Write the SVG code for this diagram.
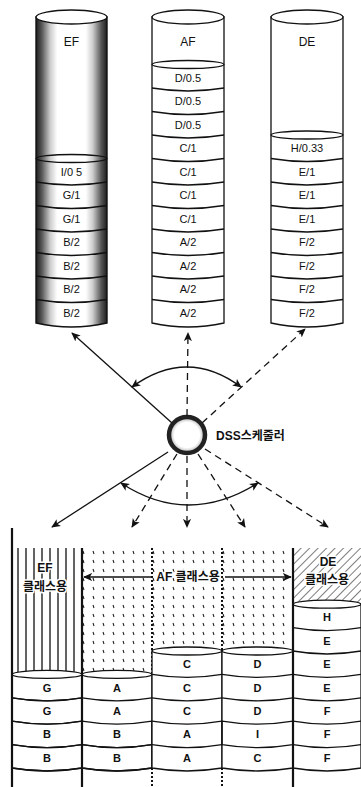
<svg xmlns="http://www.w3.org/2000/svg" width="361" height="787" viewBox="0 0 361 787">
<style>
.o{fill:none;stroke:#111;stroke-width:1.3}
.w{fill:#fff;stroke:#111;stroke-width:1.3}
.side{fill:none;stroke:#111;stroke-width:2.2}
.t{font-family:"Liberation Sans","Noto Sans CJK KR",sans-serif;font-size:11px;text-anchor:middle;fill:#111}
.bt{font-family:"Liberation Sans","Noto Sans CJK KR",sans-serif;font-size:11px;font-weight:bold;text-anchor:middle;fill:#111}
.k{font-family:"Liberation Sans","Noto Sans CJK KR",sans-serif;font-size:12px;font-weight:bold;fill:#111}
.halo{paint-order:stroke;stroke:#fff;stroke-width:3px;stroke-linejoin:round}
.ln{fill:none;stroke:#111;stroke-width:1.3}
.dash{stroke-dasharray:7 5}
</style>
<defs>
<marker id="ah" viewBox="0 0 10 10" refX="9" refY="5" markerWidth="9" markerHeight="9" markerUnits="userSpaceOnUse" orient="auto-start-reverse">
<path d="M0,0.5 L10,5 L0,9.5 L2.5,5 Z" fill="#111"/>
</marker>
<linearGradient id="shadeTop" x1="0" y1="0" x2="1" y2="0">
<stop offset="0" stop-color="#1e1e1e"/><stop offset="0.08" stop-color="#555"/><stop offset="0.2" stop-color="#ccc"/><stop offset="0.3" stop-color="#fff"/><stop offset="0.7" stop-color="#fff"/><stop offset="0.8" stop-color="#ccc"/><stop offset="0.92" stop-color="#555"/><stop offset="1" stop-color="#1e1e1e"/>
</linearGradient>
<linearGradient id="shadeD" x1="0" y1="0" x2="1" y2="0">
<stop offset="0" stop-color="#111"/><stop offset="0.1" stop-color="#555"/><stop offset="0.25" stop-color="#eee"/><stop offset="0.75" stop-color="#eee"/><stop offset="0.9" stop-color="#555"/><stop offset="1" stop-color="#111"/>
</linearGradient>
<linearGradient id="shadeL" x1="0" y1="0" x2="1" y2="0">
<stop offset="0" stop-color="#333"/><stop offset="0.1" stop-color="#888"/><stop offset="0.22" stop-color="#fff"/><stop offset="0.78" stop-color="#fff"/><stop offset="0.9" stop-color="#888"/><stop offset="1" stop-color="#333"/>
</linearGradient>
<radialGradient id="ring" cx="0.5" cy="0.5" r="0.5">
<stop offset="0" stop-color="#fff"/><stop offset="0.7" stop-color="#fff"/><stop offset="1" stop-color="#aaa"/>
</radialGradient>
<pattern id="dots" width="10" height="9" patternUnits="userSpaceOnUse">
<path d="M3,2 L4,5" stroke="#222" stroke-width="1.1"/>
</pattern>
<pattern id="hatch" width="6" height="6" patternUnits="userSpaceOnUse" patternTransform="rotate(45)">
<line x1="0" y1="0" x2="0" y2="6" stroke="#222" stroke-width="1.2"/>
</pattern>
</defs>

<!-- top cylinders -->
<g id="cyl-EF">
<path d="M36,17 L36,323 Q71.5,331 107,323 L107,17 Z" fill="url(#shadeTop)" stroke="#111" stroke-width="1.4"/>
<ellipse cx="71.5" cy="17" rx="35.5" ry="7" class="w"/>
<ellipse cx="71.5" cy="158.5" rx="35.5" ry="4" class="o"/>
<path class="o" d="M36,299.5 Q71.5,305.5 107,299.5 M36,276 Q71.5,282 107,276 M36,252.5 Q71.5,258.5 107,252.5 M36,229 Q71.5,235 107,229 M36,205.5 Q71.5,211.5 107,205.5 M36,182 Q71.5,188 107,182"/>
<text class="t" x="71.5" y="46" style="font-size:12px">EF</text>
<text class="t" x="71.5" y="175.75">I/0 5</text>
<text class="t" x="71.5" y="199.25">G/1</text>
<text class="t" x="71.5" y="222.75">G/1</text>
<text class="t" x="71.5" y="246.25">B/2</text>
<text class="t" x="71.5" y="269.75">B/2</text>
<text class="t" x="71.5" y="293.25">B/2</text>
<text class="t" x="71.5" y="316.75">B/2</text>
</g>

<g id="cyl-AF">
<path d="M152,17 L152,323 Q188,331 224,323 L224,17 Z" class="w"/>
<ellipse cx="188" cy="17" rx="36" ry="7" class="w"/>
<ellipse cx="188" cy="64.5" rx="36" ry="4" class="w"/>
<path class="o" d="M152,299.5 Q188,305.5 224,299.5 M152,276 Q188,282 224,276 M152,252.5 Q188,258.5 224,252.5 M152,229 Q188,235 224,229 M152,205.5 Q188,211.5 224,205.5 M152,182 Q188,188 224,182 M152,158.5 Q188,164.5 224,158.5 M152,135 Q188,141 224,135 M152,111.5 Q188,117.5 224,111.5 M152,88 Q188,94 224,88"/>
<text class="t" x="188" y="46" style="font-size:12px">AF</text>
<text class="t" x="188" y="81.75">D/0.5</text>
<text class="t" x="188" y="105.25">D/0.5</text>
<text class="t" x="188" y="128.75">D/0.5</text>
<text class="t" x="188" y="152.25">C/1</text>
<text class="t" x="188" y="175.75">C/1</text>
<text class="t" x="188" y="199.25">C/1</text>
<text class="t" x="188" y="222.75">C/1</text>
<text class="t" x="188" y="246.25">A/2</text>
<text class="t" x="188" y="269.75">A/2</text>
<text class="t" x="188" y="293.25">A/2</text>
<text class="t" x="188" y="316.75">A/2</text>
</g>

<g id="cyl-DE">
<path d="M271,17 L271,323 Q307,331 343,323 L343,17 Z" class="w"/>
<ellipse cx="307" cy="17" rx="36" ry="7" class="w"/>
<ellipse cx="307" cy="135" rx="36" ry="4" class="w"/>
<path class="o" d="M271,299.5 Q307,305.5 343,299.5 M271,276 Q307,282 343,276 M271,252.5 Q307,258.5 343,252.5 M271,229 Q307,235 343,229 M271,205.5 Q307,211.5 343,205.5 M271,182 Q307,188 343,182 M271,158.5 Q307,164.5 343,158.5"/>
<text class="t" x="307" y="46" style="font-size:12px">DE</text>
<text class="t" x="307" y="152.25">H/0.33</text>
<text class="t" x="307" y="175.75">E/1</text>
<text class="t" x="307" y="199.25">E/1</text>
<text class="t" x="307" y="222.75">E/1</text>
<text class="t" x="307" y="246.25">F/2</text>
<text class="t" x="307" y="269.75">F/2</text>
<text class="t" x="307" y="293.25">F/2</text>
<text class="t" x="307" y="316.75">F/2</text>
</g>

<!-- scheduler -->
<g id="scheduler">
<circle cx="187" cy="435" r="18" fill="url(#ring)" stroke="#222" stroke-width="4.5"/>
<text class="k" x="216" y="440">DSS스케줄러</text>
</g>

<!-- connectors -->
<g id="connectors">
<path class="ln" d="M172,423 L72,333" marker-end="url(#ah)"/>
<path class="ln dash" d="M187,416 L188,333" marker-end="url(#ah)"/>
<path class="ln dash" d="M202,423 L305,329" marker-end="url(#ah)"/>
<path class="ln" d="M132,387 Q187,347 241,387" marker-start="url(#ah)" marker-end="url(#ah)"/>
<path class="ln" d="M168,452 L52,527" marker-end="url(#ah)"/>
<path class="ln dash" d="M177,454 L132,527" marker-end="url(#ah)"/>
<path class="ln dash" d="M187,456 L187,527" marker-end="url(#ah)"/>
<path class="ln dash" d="M198,454 L245,527" marker-end="url(#ah)"/>
<path class="ln dash" d="M205,449 L328,527" marker-end="url(#ah)"/>
<path class="ln" d="M121,483 Q188,527 258,483" marker-start="url(#ah)" marker-end="url(#ah)"/>
</g>

<!-- bottom class regions -->
<g id="region-EF">
<path class="o" stroke-width="1" d="M18,548 V674 M26,548 V674 M34,548 V674 M42,548 V674 M50,548 V674 M58,548 V674 M66,548 V674 M74,548 V674"/>
<text class="k halo" x="45" y="572" text-anchor="middle">EF</text>
<text class="k halo" x="45" y="591" text-anchor="middle">클래스용</text>
</g>
<g id="region-AF">
<rect x="83" y="548" width="209" height="127" fill="url(#dots)"/>
<path d="M152,548 V787 M222,548 V787" fill="none" stroke="#111" stroke-width="2" stroke-dasharray="2 2"/>
</g>
<g id="region-DE">
<rect x="294" y="548" width="67" height="57" fill="url(#hatch)"/>
<text class="k halo" x="328" y="566" text-anchor="middle">DE</text>
<text class="k halo" x="327" y="584" text-anchor="middle">클래스용</text>
</g>

<!-- bottom stacks -->
<g id="stack-EF">
<path class="w" d="M12,674.4 L12,768 Q47,774 82,768 L82,674.4 Z"/>
<path fill="url(#shadeD)" class="o" d="M12,744.6 Q47,750.6 82,744.6 L82,768 Q47,774 12,768 Z"/>
<path fill="url(#shadeD)" class="o" d="M12,721.2 Q47,727.2 82,721.2 L82,744.6 Q47,750.6 12,744.6 Z"/>
<path fill="url(#shadeL)" class="o" d="M12,697.8 Q47,703.8 82,697.8 L82,721.2 Q47,727.2 12,721.2 Z"/>
<path fill="url(#shadeL)" class="o" d="M12,674.4 Q47,680.4 82,674.4 L82,697.8 Q47,703.8 12,697.8 Z"/>
<ellipse cx="47" cy="674.4" rx="35" ry="4" class="w"/>
<text class="bt" x="47" y="691.6">G</text>
<text class="bt" x="47" y="715">G</text>
<text class="bt" x="47" y="738.4">B</text>
<text class="bt" x="47" y="761.8">B</text>
</g>
<g id="stack-AF1">
<path class="w" d="M82,674.4 L82,768 Q117,774 152,768 L152,674.4 Z"/>
<path fill="url(#shadeL)" class="o" d="M82,744.6 Q117,750.6 152,744.6 L152,768 Q117,774 82,768 Z"/>
<path fill="url(#shadeL)" class="o" d="M82,721.2 Q117,727.2 152,721.2 L152,744.6 Q117,750.6 82,744.6 Z"/>
<path class="o" d="M82,697.8 Q117,703.8 152,697.8"/>
<ellipse cx="117" cy="674.4" rx="35" ry="4" class="w"/>
<text class="bt" x="117" y="691.6">A</text>
<text class="bt" x="117" y="715">A</text>
<text class="bt" x="117" y="738.4">B</text>
<text class="bt" x="117" y="761.8">B</text>
</g>
<g id="stack-AF2">
<path class="w" d="M152,651 L152,768 Q187,774 222,768 L222,651 Z"/>
<path class="o" d="M152,744.6 Q187,750.6 222,744.6 M152,721.2 Q187,727.2 222,721.2 M152,697.8 Q187,703.8 222,697.8 M152,674.4 Q187,680.4 222,674.4"/>
<ellipse cx="187" cy="651" rx="35" ry="4" class="w"/>
<text class="bt" x="187" y="668.2">C</text>
<text class="bt" x="187" y="691.6">C</text>
<text class="bt" x="187" y="715">C</text>
<text class="bt" x="187" y="738.4">A</text>
<text class="bt" x="187" y="761.8">A</text>
</g>
<g id="stack-AF3">
<path class="w" d="M222,651 L222,768 Q257.5,774 293,768 L293,651 Z"/>
<path fill="url(#shadeL)" class="o" d="M222,721.2 Q257.5,727.2 293,721.2 L293,744.6 Q257.5,750.6 222,744.6 Z"/>
<path class="o" d="M222,697.8 Q257.5,703.8 293,697.8 M222,674.4 Q257.5,680.4 293,674.4"/>
<ellipse cx="257.5" cy="651" rx="35.5" ry="4" class="w"/>
<text class="bt" x="257.5" y="668.2">D</text>
<text class="bt" x="257.5" y="691.6">D</text>
<text class="bt" x="257.5" y="715">D</text>
<text class="bt" x="257.5" y="738.4">I</text>
<text class="bt" x="257.5" y="761.8">C</text>
</g>
<g id="stack-DE">
<path class="w" d="M293,604.2 L293,768 Q327,774 361,768 L361,604.2 Z"/>
<path class="o" d="M293,744.6 Q327,750.6 361,744.6 M293,721.2 Q327,727.2 361,721.2 M293,697.8 Q327,703.8 361,697.8 M293,674.4 Q327,680.4 361,674.4 M293,651 Q327,657 361,651 M293,627.6 Q327,633.6 361,627.6"/>
<ellipse cx="327" cy="604.2" rx="34" ry="4" class="w"/>
<text class="bt" x="327" y="621.4">H</text>
<text class="bt" x="327" y="644.8">E</text>
<text class="bt" x="327" y="668.2">E</text>
<text class="bt" x="327" y="691.6">E</text>
<text class="bt" x="327" y="715">F</text>
<text class="bt" x="327" y="738.4">F</text>
<text class="bt" x="327" y="761.8">F</text>
</g>

<!-- dividers and AF class arrow -->
<g id="dividers">
<path class="side" d="M12,528 V787 M82,548 V787 M293,548 V787"/>
<path class="ln" stroke-width="1.6" d="M151,577 L84,577" marker-end="url(#ah)"/>
<path class="ln" stroke-width="1.6" d="M225,577 L291,577" marker-end="url(#ah)"/>
<text class="k halo" x="188" y="581" text-anchor="middle">AF 클래스용</text>
</g>
</svg>
